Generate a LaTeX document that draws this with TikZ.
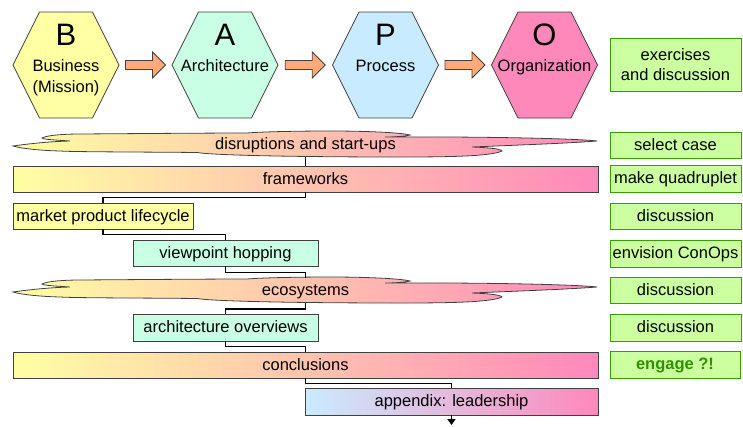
\documentclass[tikz,border=0pt]{standalone}
\usepackage{fontspec}
\setmainfont{Liberation Sans}
\usetikzlibrary{arrows.meta,calc}

\definecolor{hexB}{HTML}{FFFFA3}
\definecolor{hexA}{HTML}{C9FFE5}
\definecolor{hexP}{HTML}{C9EBFF}
\definecolor{hexO}{HTML}{FF88BB}
\definecolor{flowarrow}{HTML}{FFAA78}
\definecolor{edgegray}{HTML}{404040}
\definecolor{taskfill}{HTML}{CCFFA0}
\definecolor{taskedge}{HTML}{33A000}
\definecolor{engagetext}{HTML}{2E9100}

\tikzset{
  pics/hexagon/.style={code={
    \draw[edgegray, line width=0.8pt, fill=#1]
      (-53,0) -- (-26.5,-53) -- (26.5,-53) -- (53,0) -- (26.5,53) -- (-26.5,53) -- cycle;}},
  pics/blockarrow/.style={code={
    \draw[edgegray, line width=0.8pt, fill=flowarrow]
      (-20,-4.5) -- (7,-4.5) -- (7,-13) -- (20,0) -- (7,13) -- (7,4.5) -- (-20,4.5) -- cycle;}},
  pics/cloudbar/.style={code={
    \draw[edgegray, line width=0.8pt, left color=hexB, right color=hexO]
      (-292.5,1.5) .. controls (-275,-1) and (-255,-3) .. (-235.5,-3.5)
      .. controls (-250,-4.5) and (-262,-5) .. (-263.5,-6.5)
      .. controls (-258,-9.5) and (-240,-10.5) .. (-225.5,-10.5)
      .. controls (-160,-11) and (-90,-11.5) .. (-58.5,-11.5)
      .. controls (-40,-13) and (0,-13.5) .. (24.5,-13.5)
      .. controls (60,-13.5) and (95,-12) .. (104.5,-9.5)
      .. controls (98,-8) and (88,-7.5) .. (79.5,-7.5)
      .. controls (180,-8) and (270,-6) .. (291.5,-3.5)
      .. controls (260,-1) and (200,1) .. (166.5,2.5)
      .. controls (180,3) and (195,4) .. (196.5,6.5)
      .. controls (185,12) and (140,12.5) .. (94.5,12.5)
      .. controls (0,12.5) and (-90,11) .. (-108.5,8)
      .. controls (-150,7.5) and (-230,7.5) .. (-245.5,6.5)
      .. controls (-265,6) and (-285,4) .. (-292.5,1.5) -- cycle;}}
}

\begin{document}
\begin{tikzpicture}[x=1pt, y=-1pt,
  every node/.style={font=\fontsize{16.5}{20}\selectfont, inner sep=0pt},
  bigletter/.style={font=\fontsize{31}{34}\selectfont, anchor=base},
  hexlabel/.style={anchor=base},
  box/.style={draw=edgegray, line width=0.8pt, text height=12pt, text depth=2pt, minimum height=26pt},
  wide/.style={box, minimum width=585pt, left color=hexB, right color=hexO},
  topic/.style={box, minimum width=#1},
  cloudtext/.style={text height=12pt, text depth=2pt, minimum width=585pt, minimum height=25pt},
  task/.style={box, draw=taskedge, fill=taskfill, minimum width=131pt},
  link/.style={draw=black, line width=1.8pt}
]
\useasboundingbox (0,0) rectangle (743,426);

% the four BAPO views
\coordinate (B) at (66,65);
\coordinate (A) at (225,65);
\coordinate (P) at (385.5,65);
\coordinate (O) at (544.5,65);
\pic at (B) {hexagon=hexB};
\pic at (A) {hexagon=hexA};
\pic at (P) {hexagon=hexP};
\pic at (O) {hexagon=hexO};
\pic at ($(B)!0.5!(A)$) {blockarrow};
\pic at ($(A)!0.5!(P)$) {blockarrow};
\pic at ($(P)!0.5!(O)$) {blockarrow};

\node[bigletter] (B-l) at (66,45) {B};
\node[hexlabel] (B-t1) at (66,71) {Business};
\node[hexlabel] (B-t2) at (66,92) {(Mission)};
\node[bigletter] (A-l) at (225,45) {A};
\node[hexlabel] (A-t) at (225,71) {Architecture};
\node[bigletter] (P-l) at (385.5,45) {P};
\node[hexlabel] (P-t) at (385.5,71) {Process};
\node[bigletter] (O-l) at (544.5,45) {O};
\node[hexlabel] (O-t) at (544.5,71) {Organization};

% course modules
\pic at (305.5,144.5) {cloudbar};
\node[cloudtext] (dis) at (305.5,144.5) {disruptions and start-ups};
\node[wide] (fw) at (305.5,179) {frameworks};
\node[topic=180pt, fill=hexB] (mkt) at (103,216) {market product lifecycle};
\node[topic=185pt, fill=hexA] (vp) at (225.5,253) {viewpoint hopping};
\pic at (305.5,290.5) {cloudbar};
\node[cloudtext] (eco) at (305.5,290.5) {ecosystems};
\node[topic=185pt, fill=hexA, minimum height=27pt] (ao) at (225.5,327.5) {architecture overviews};
\node[wide] (concl) at (305.5,365) {conclusions};
\node[box, minimum width=293pt, minimum height=27pt, left color=hexP, right color=hexO] (app) at (451.5,401.5) {appendix: leadership};
\coordinate (end) at (451.5,425);

% module sequence
\draw[link] (dis.south) -- (fw.north);
\draw[link] (fw.south) -- ++(0,5) -| (mkt.north);
\draw[link] (mkt.south) -- ++(0,5) -| (vp.north);
\draw[link] (vp.south) -- ++(0,6) -| (eco.north);
\draw[link] (eco.south) -- ++(0,6) -| (ao.north);
\draw[link] (ao.south) -- ++(0,5) -| (concl.north);
\draw[link] (concl.south) -- ++(0,5) -| (app.north);
\draw[link, -{Triangle[length=6pt,width=8pt]}] (app.south) -- (end);

% exercises per module
\node[task, minimum height=53pt] (ex) at (675.5,64.5) {};
\node[anchor=base] (ex-t1) at (675.5,60) {exercises};
\node[anchor=base] (ex-t2) at (675.5,80) {and discussion};
\node[task] (t1) at (675.5,145) {select case};
\node[task, minimum height=27pt] (t2) at (675.5,178.5) {make quadruplet};
\node[task] (t3) at (675.5,216) {discussion};
\node[task, minimum height=27pt] (t4) at (675.5,253.5) {envision ConOps};
\node[task] (t5) at (675.5,290) {discussion};
\node[task, minimum height=27pt] (t6) at (675.5,327.5) {discussion};
\node[task, minimum width=130pt, minimum height=27pt, text=engagetext, font=\fontsize{16.5}{20}\selectfont\bfseries] (t7) at (675,364.5) {engage ?!};
\end{tikzpicture}
\end{document}
